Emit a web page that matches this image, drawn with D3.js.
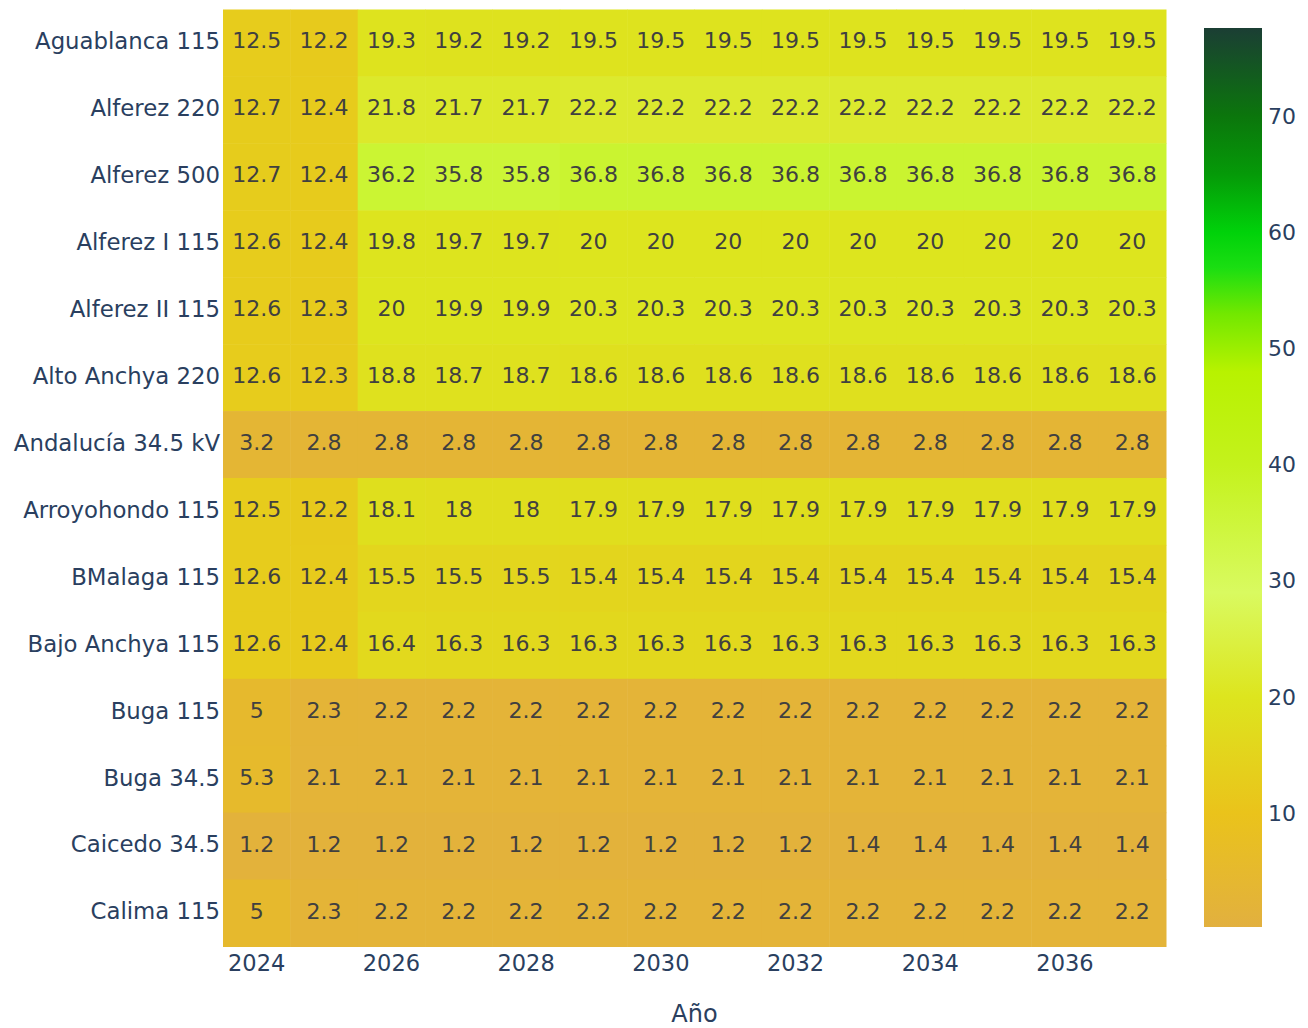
<!DOCTYPE html>
<html>
<head>
<meta charset="utf-8">
<script src="https://cdn.jsdelivr.net/npm/d3@7"></script>
<style>
  body { margin: 0; background: #fff; }
  text { font-family: "DejaVu Sans", Verdana, sans-serif; }
</style>
</head>
<body>
<div id="chart"></div>
<script>
var years = [2024, 2025, 2026, 2027, 2028, 2029, 2030, 2031, 2032, 2033, 2034, 2035, 2036, 2037];
var yearTicks = [2024, 2026, 2028, 2030, 2032, 2034, 2036];

var stations = [
  "Aguablanca 115", "Alferez 220", "Alferez 500", "Alferez I 115", "Alferez II 115",
  "Alto Anchya 220", "Andalucía 34.5 kV", "Arroyohondo 115", "BMalaga 115",
  "Bajo Anchya 115", "Buga 115", "Buga 34.5", "Caicedo 34.5", "Calima 115"
];

var aguablanca115  = [12.5, 12.2, 19.3, 19.2, 19.2, 19.5, 19.5, 19.5, 19.5, 19.5, 19.5, 19.5, 19.5, 19.5];
var alferez220     = [12.7, 12.4, 21.8, 21.7, 21.7, 22.2, 22.2, 22.2, 22.2, 22.2, 22.2, 22.2, 22.2, 22.2];
var alferez500     = [12.7, 12.4, 36.2, 35.8, 35.8, 36.8, 36.8, 36.8, 36.8, 36.8, 36.8, 36.8, 36.8, 36.8];
var alferezI115    = [12.6, 12.4, 19.8, 19.7, 19.7, 20, 20, 20, 20, 20, 20, 20, 20, 20];
var alferezII115   = [12.6, 12.3, 20, 19.9, 19.9, 20.3, 20.3, 20.3, 20.3, 20.3, 20.3, 20.3, 20.3, 20.3];
var altoAnchya220  = [12.6, 12.3, 18.8, 18.7, 18.7, 18.6, 18.6, 18.6, 18.6, 18.6, 18.6, 18.6, 18.6, 18.6];
var andalucia345   = [3.2, 2.8, 2.8, 2.8, 2.8, 2.8, 2.8, 2.8, 2.8, 2.8, 2.8, 2.8, 2.8, 2.8];
var arroyohondo115 = [12.5, 12.2, 18.1, 18, 18, 17.9, 17.9, 17.9, 17.9, 17.9, 17.9, 17.9, 17.9, 17.9];
var bmalaga115     = [12.6, 12.4, 15.5, 15.5, 15.5, 15.4, 15.4, 15.4, 15.4, 15.4, 15.4, 15.4, 15.4, 15.4];
var bajoAnchya115  = [12.6, 12.4, 16.4, 16.3, 16.3, 16.3, 16.3, 16.3, 16.3, 16.3, 16.3, 16.3, 16.3, 16.3];
var buga115        = [5, 2.3, 2.2, 2.2, 2.2, 2.2, 2.2, 2.2, 2.2, 2.2, 2.2, 2.2, 2.2, 2.2];
var buga345        = [5.3, 2.1, 2.1, 2.1, 2.1, 2.1, 2.1, 2.1, 2.1, 2.1, 2.1, 2.1, 2.1, 2.1];
var caicedo345     = [1.2, 1.2, 1.2, 1.2, 1.2, 1.2, 1.2, 1.2, 1.2, 1.4, 1.4, 1.4, 1.4, 1.4];
var calima115      = [5, 2.3, 2.2, 2.2, 2.2, 2.2, 2.2, 2.2, 2.2, 2.2, 2.2, 2.2, 2.2, 2.2];

var rows = [aguablanca115, alferez220, alferez500, alferezI115, alferezII115, altoAnchya220,
  andalucia345, arroyohondo115, bmalaga115, bajoAnchya115, buga115, buga345, caicedo345, calima115];

// colour bar range as shown by the legend
var zmin = 0.2, zmax = 77.6;
var colorTicks = [10, 20, 30, 40, 50, 60, 70];
var stopValues = [0.2, 10, 20, 29, 40, 48, 53, 57, 60, 65, 70, 77.6];
var stopColors = ["#e2b03f", "#eac31b", "#dde51e", "#d9fa60", "#c4f21c", "#b8f200",
                  "#72e800", "#1ade12", "#00d20a", "#059a08", "#0b760c", "#1b3e34"];

var W = 1308, H = 1028,
    m = [9.5, 142, 81.5, 223]; // top right bottom left

var color = d3.scaleLinear().domain(stopValues).range(stopColors).interpolate(d3.interpolateRgb);

var x = d3.scaleBand().domain(years).range([m[3], W - m[1]]);
var y = d3.scaleBand().domain(stations).range([m[0], H - m[2]]);

var svg = d3.select("#chart").append("svg")
    .attr("width", W)
    .attr("height", H);

var cells = [];
rows.forEach(function(r, i) {
  r.forEach(function(v, j) { cells.push({ s: stations[i], yr: years[j], v: v }); });
});

svg.append("g").selectAll("rect")
    .data(cells)
  .enter().append("rect")
    .attr("x", function(d) { return x(d.yr); })
    .attr("y", function(d) { return y(d.s); })
    .attr("width", x.bandwidth() + 0.5)
    .attr("height", y.bandwidth() + 0.5)
    .attr("fill", function(d) { return color(d.v); });

svg.append("g").selectAll("text")
    .data(cells)
  .enter().append("text")
    .attr("x", function(d) { return x(d.yr) + x.bandwidth() / 2; })
    .attr("y", function(d) { return y(d.s) + y.bandwidth() / 2; })
    .attr("dy", "0.25em")
    .attr("text-anchor", "middle")
    .attr("font-size", 22)
    .attr("fill", "#404040")
    .text(function(d) { return d.v; });

// y axis labels
var yAxis = svg.append("g")
    .attr("transform", "translate(" + (m[3] - 3) + ",0)")
    .call(d3.axisLeft(y).tickSize(0).tickPadding(0));
yAxis.select(".domain").remove();
yAxis.selectAll("text")
    .attr("dy", "0.28em")
    .attr("font-size", 22.8)
    .attr("fill", "#2a3f5f")
    .attr("font-family", "DejaVu Sans, Verdana, sans-serif");

// x axis labels
var xAxis = svg.append("g")
    .attr("transform", "translate(0," + (H - m[2]) + ")")
    .call(d3.axisBottom(x).tickValues(yearTicks).tickSize(0).tickPadding(9));
xAxis.select(".domain").remove();
xAxis.selectAll("text")
    .attr("font-size", 22.5)
    .attr("fill", "#2a3f5f")
    .attr("font-family", "DejaVu Sans, Verdana, sans-serif");

svg.append("text")
    .attr("x", (m[3] + W - m[1]) / 2)
    .attr("y", 1022)
    .attr("text-anchor", "middle")
    .attr("font-size", 24)
    .attr("fill", "#2a3f5f")
    .text("Año");

// colour bar
var cb = { x: 1204, y0: 28, y1: 927, w: 58 };
var cy = d3.scaleLinear().domain([zmin, zmax]).range([cb.y1, cb.y0]);

var grad = svg.append("defs").append("linearGradient")
    .attr("id", "cbgrad")
    .attr("x1", 0).attr("y1", 1).attr("x2", 0).attr("y2", 0);
grad.selectAll("stop")
    .data(stopValues)
  .enter().append("stop")
    .attr("offset", function(d) { return (d - zmin) / (zmax - zmin); })
    .attr("stop-color", function(d, i) { return stopColors[i]; });

svg.append("rect")
    .attr("x", cb.x)
    .attr("y", cb.y0)
    .attr("width", cb.w)
    .attr("height", cb.y1 - cb.y0)
    .attr("fill", "url(#cbgrad)");

var cAxis = svg.append("g")
    .attr("transform", "translate(" + (cb.x + cb.w) + ",0)")
    .call(d3.axisRight(cy).tickValues(colorTicks).tickSize(0).tickPadding(6));
cAxis.select(".domain").remove();
cAxis.selectAll("text")
    .attr("font-size", 22)
    .attr("fill", "#2a3f5f")
    .attr("font-family", "DejaVu Sans, Verdana, sans-serif");
</script>
</body>
</html>
